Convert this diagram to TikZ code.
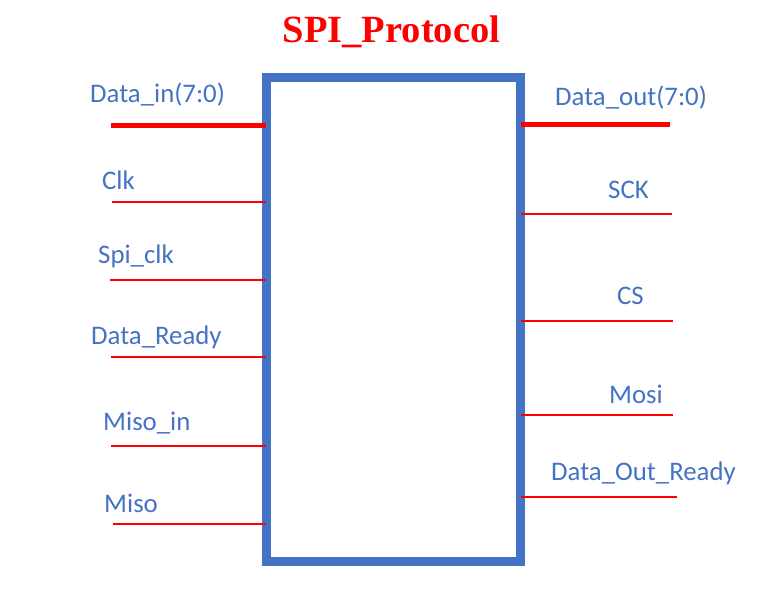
\documentclass[tikz,border=0pt]{standalone}
\usepackage{fontspec}
\setmainfont{Carlito}
\newfontfamily\titlefont{Liberation Serif}
\definecolor{lblue}{HTML}{4472C4}
\definecolor{wred}{HTML}{FF0000}
\begin{document}
\begin{tikzpicture}[x=1pt,y=-1pt,
  lbl/.style={anchor=west,inner sep=0pt,text=lblue,font=\fontsize{26.8}{30}\selectfont},
  sig/.style={draw=wred,line width=2.2pt},
  bus/.style={draw=wred,line width=5pt}]
\useasboundingbox (0,0) rectangle (762,592);
\node[draw=lblue,line width=9pt,minimum width=254.5pt,minimum height=483.5pt,inner sep=0pt,outer sep=0pt] (box) at (393.25,319.25) {};
\node[inner sep=0pt,text=wred,font=\titlefont\bfseries\fontsize{38.5}{44}\selectfont] (title) at (391.5,32) {SPI\_Protocol};
% left labels
\node[lbl] (ldin) at (90,95) {Data\_in(7:0)};
\node[lbl] (lclk) at (102,180) {Clk};
\node[lbl] (lspi) at (98,256) {Spi\_clk};
\node[lbl] (ldr) at (91,337) {Data\_Ready};
\node[lbl] (lmisoin) at (103,423) {Miso\_in};
\node[lbl] (lmiso) at (104,503) {Miso};
% right labels
\node[lbl] (ldout) at (555,98) {Data\_out(7:0)};
\node[lbl] (lsck) at (608,190) {SCK};
\node[lbl] (lcs) at (617,296) {CS};
\node[lbl] (lmosi) at (609,394) {Mosi};
\node[lbl] (ldor) at (551,473) {Data\_Out\_Ready};
% left wire ends
\coordinate (cdin) at (111,125);
\coordinate (cclk) at (112,202);
\coordinate (cspi) at (110,280);
\coordinate (cdr) at (111,357);
\coordinate (cmisoin) at (111,446);
\coordinate (cmiso) at (113,524);
% right wire ends
\coordinate (cdout) at (670,124);
\coordinate (csck) at (672,214);
\coordinate (ccs) at (673,321);
\coordinate (cmosi) at (673,415);
\coordinate (cdor) at (677,497);
\draw[bus] (cdin) -- (box.west |- cdin);
\draw[sig] (cclk) -- (box.west |- cclk);
\draw[sig] (cspi) -- (box.west |- cspi);
\draw[sig] (cdr) -- (box.west |- cdr);
\draw[sig] (cmisoin) -- (box.west |- cmisoin);
\draw[sig] (cmiso) -- (box.west |- cmiso);
\draw[bus] (cdout) -- (box.east |- cdout);
\draw[sig] (csck) -- (box.east |- csck);
\draw[sig] (ccs) -- (box.east |- ccs);
\draw[sig] (cmosi) -- (box.east |- cmosi);
\draw[sig] (cdor) -- (box.east |- cdor);
\end{tikzpicture}
\end{document}
